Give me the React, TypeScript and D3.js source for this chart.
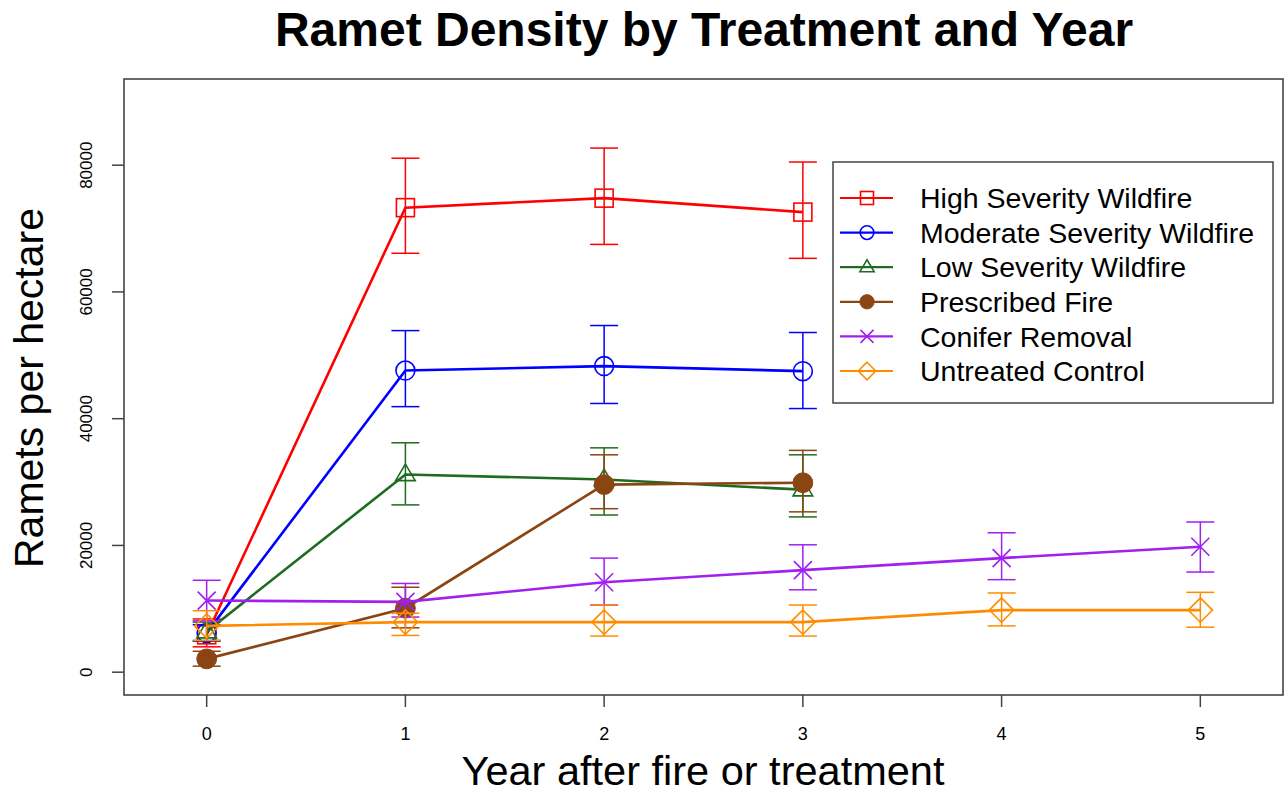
import React from "react";
import * as d3 from "d3";

// chart values
const years = [0, 1, 2, 3, 4, 5];
const seriesNames = [
  "High Severity Wildfire",
  "Moderate Severity Wildfire",
  "Low Severity Wildfire",
  "Prescribed Fire",
  "Conifer Removal",
  "Untreated Control",
];
const highMean = [5900, 73300, 74800, 72600];
const highLo = [4000, 66100, 67500, 65300];
const highHi = [8400, 81100, 82700, 80500];
const modMean = [6200, 47600, 48300, 47500];
const modLo = [4900, 41900, 42400, 41600];
const modHi = [7500, 53900, 54700, 53600];
const lowMean = [6400, 31200, 30400, 28800];
const lowLo = [5000, 26400, 24800, 24500];
const lowHi = [7900, 36200, 35400, 34300];
const rxMean = [2100, 10100, 29600, 29900];
const rxLo = [950, 7000, 25800, 25300];
const rxHi = [3300, 13400, 34300, 35000];
const conMean = [11300, 11100, 14200, 16100, 18000, 19800];
const conLo = [8100, 8700, 10600, 13000, 14600, 15800];
const conHi = [14500, 14000, 18000, 20100, 22000, 23700];
const ctlMean = [7300, 7900, 7900, 7900, 9800, 9800];
const ctlLo = [5000, 5800, 5700, 5700, 7300, 7100];
const ctlHi = [9700, 9300, 10600, 10600, 12500, 12600];
const yTicks = [0, 20000, 40000, 60000, 80000];

type Sym = "square" | "circle" | "triangle" | "dot" | "cross" | "diamond";
interface Series {
  name: string;
  color: string;
  sym: Sym;
  mean: number[];
  lo: number[];
  hi: number[];
}

const series: Series[] = [
  { name: seriesNames[0], color: "#ff0000", sym: "square", mean: highMean, lo: highLo, hi: highHi },
  { name: seriesNames[1], color: "#0000ff", sym: "circle", mean: modMean, lo: modLo, hi: modHi },
  { name: seriesNames[2], color: "#1f6b1f", sym: "triangle", mean: lowMean, lo: lowLo, hi: lowHi },
  { name: seriesNames[3], color: "#8b4513", sym: "dot", mean: rxMean, lo: rxLo, hi: rxHi },
  { name: seriesNames[4], color: "#a020f0", sym: "cross", mean: conMean, lo: conLo, hi: conHi },
  { name: seriesNames[5], color: "#ff8c00", sym: "diamond", mean: ctlMean, lo: ctlLo, hi: ctlHi },
];

const W = 1285, H = 793;
const box = { left: 124, right: 1283, top: 79, bottom: 695 };
const FONT = "'Liberation Sans', Arial, Helvetica, sans-serif";

function Symbol({ sym, x, y, color, s }: { sym: Sym; x: number; y: number; color: string; s: number }) {
  const sw = 1.6;
  switch (sym) {
    case "square":
      return <rect x={x - s} y={y - s} width={2 * s} height={2 * s} fill="none" stroke={color} strokeWidth={sw} />;
    case "circle":
      return <circle cx={x} cy={y} r={s * 1.05} fill="none" stroke={color} strokeWidth={sw} />;
    case "triangle": {
      const r = s * 1.15;
      return (
        <path d={`M${x},${y - r}L${x + r * 0.95},${y + r * 0.6}L${x - r * 0.95},${y + r * 0.6}Z`}
          fill="none" stroke={color} strokeWidth={sw} />
      );
    }
    case "dot":
      return <circle cx={x} cy={y} r={s * 1.1} fill={color} stroke={color} strokeWidth={1} />;
    case "cross":
      return (
        <path d={`M${x - s},${y - s}L${x + s},${y + s}M${x - s},${y + s}L${x + s},${y - s}`}
          stroke={color} strokeWidth={sw} />
      );
    case "diamond": {
      const r = s * 1.35;
      return (
        <path d={`M${x},${y - r}L${x + r},${y}L${x},${y + r}L${x - r},${y}Z`}
          fill="none" stroke={color} strokeWidth={sw} />
      );
    }
  }
}

export default function App() {
  const x = d3.scaleLinear().domain([-0.416, 5.416]).range([box.left, box.right]);
  const y = d3.scaleLinear().domain([-3600, 93600]).range([box.bottom, box.top]);
  const line = d3.line<number>().x((_, i) => x(years[i])).y((d) => y(d));
  const cap = 14;

  const legend = { left: 833, top: 162, right: 1273, bottom: 403, firstY: 198, step: 34.6 };

  return (
    <svg width={W} height={H} style={{ position: "absolute", left: 0, top: 0, background: "#fff" }}
      fontFamily={FONT}>
      <rect width={W} height={H} fill="#fff" />
      <text x={704} y={46} textAnchor="middle" fontSize={48} fontWeight="bold">
        Ramet Density by Treatment and Year
      </text>

      {/* series */}
      {series.map((s) => (
        <g key={s.name}>
          <path d={line(s.mean) || ""} fill="none" stroke={s.color} strokeWidth={2.6} />
          {s.mean.map((m, i) => {
            const cx = x(years[i]);
            return (
              <g key={i} stroke={s.color} strokeWidth={1.5}>
                <line x1={cx} x2={cx} y1={y(s.lo[i])} y2={y(s.hi[i])} />
                <line x1={cx - cap} x2={cx + cap} y1={y(s.lo[i])} y2={y(s.lo[i])} />
                <line x1={cx - cap} x2={cx + cap} y1={y(s.hi[i])} y2={y(s.hi[i])} />
              </g>
            );
          })}
          {s.mean.map((m, i) => (
            <Symbol key={"p" + i} sym={s.sym} x={x(years[i])} y={y(m)} color={s.color} s={9} />
          ))}
        </g>
      ))}

      {/* frame */}
      <rect x={box.left} y={box.top} width={box.right - box.left} height={box.bottom - box.top}
        fill="none" stroke="#444" strokeWidth={1.6} />

      {/* x axis */}
      {years.map((t) => (
        <g key={t}>
          <line x1={x(t)} x2={x(t)} y1={box.bottom} y2={box.bottom + 12} stroke="#444" strokeWidth={1.5} />
          <text x={x(t)} y={740} textAnchor="middle" fontSize={18}>{t}</text>
        </g>
      ))}
      <text x={703} y={785} textAnchor="middle" fontSize={41.5}>Year after fire or treatment</text>

      {/* y axis */}
      {yTicks.map((t) => (
        <g key={t}>
          <line x1={box.left - 12} x2={box.left} y1={y(t)} y2={y(t)} stroke="#444" strokeWidth={1.5} />
          <text transform={`translate(92,${y(t)}) rotate(-90)`} textAnchor="middle" fontSize={17}>{t}</text>
        </g>
      ))}
      <text transform={`translate(43,388) rotate(-90)`} textAnchor="middle" fontSize={41}>Ramets per hectare</text>

      {/* legend */}
      <rect x={legend.left} y={legend.top} width={legend.right - legend.left} height={legend.bottom - legend.top}
        fill="#fff" stroke="#444" strokeWidth={1.5} />
      {series.map((s, i) => {
        const ly = legend.firstY + i * legend.step;
        return (
          <g key={"l" + s.name}>
            <line x1={840} x2={893} y1={ly} y2={ly} stroke={s.color} strokeWidth={2.2} />
            <Symbol sym={s.sym} x={867} y={ly} color={s.color} s={6.5} />
            <text x={920} y={ly} dy="0.36em" fontSize={28.5}>{s.name}</text>
          </g>
        );
      })}
    </svg>
  );
}
